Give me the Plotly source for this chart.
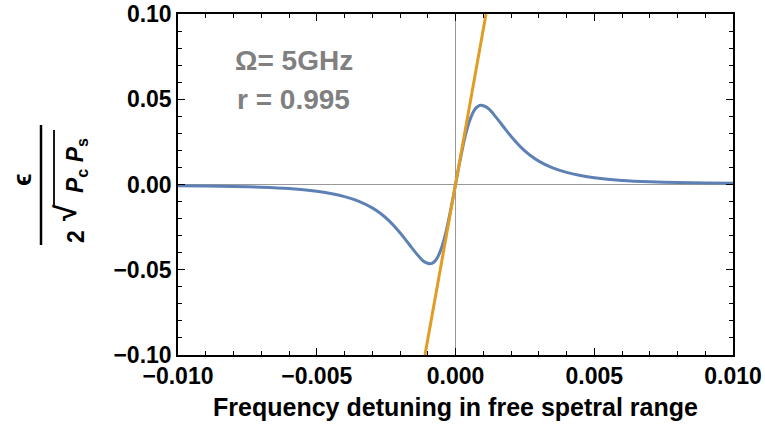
import plotly.graph_objects as go

# Blue curve: values
detuning = [-0.010, -0.009, -0.008, -0.007, -0.006, -0.005, -0.0045, -0.004, -0.0035,
            -0.003, -0.0027, -0.0024, -0.0021, -0.0018, -0.0016, -0.0014, -0.0012,
            -0.0011, -0.001, -0.00094, -0.00085, -0.00075, -0.00065, -0.00055,
            -0.00045, -0.00035, -0.00025, -0.00015, -0.00005,
            0.00005, 0.00015, 0.00025, 0.00035, 0.00045, 0.00055, 0.00065, 0.00075,
            0.00085, 0.00094, 0.001, 0.0011, 0.0012, 0.0014, 0.0016, 0.0018, 0.0021,
            0.0024, 0.0027, 0.003, 0.0035, 0.004, 0.0045, 0.005, 0.006, 0.007,
            0.008, 0.009, 0.010]
epsilon = [-0.0007, -0.0009, -0.0012, -0.0016, -0.0024, -0.0040, -0.0053, -0.0071,
           -0.0097, -0.0137, -0.0170, -0.0212, -0.0264, -0.0323, -0.0366, -0.0407,
           -0.0443, -0.0455, -0.0462, -0.0465, -0.0463, -0.0451, -0.0428, -0.0392,
           -0.0344, -0.0283, -0.0210, -0.0129, -0.0044,
           0.0044, 0.0129, 0.0210, 0.0283, 0.0344, 0.0392, 0.0428, 0.0451,
           0.0463, 0.0465, 0.0462, 0.0455, 0.0443, 0.0407, 0.0366, 0.0323, 0.0264,
           0.0212, 0.0170, 0.0137, 0.0097, 0.0071, 0.0053, 0.0040, 0.0024, 0.0016,
           0.0012, 0.0009, 0.0007]

# Orange tangent line
tangent_x = [-0.0011, 0.0011]
tangent_y = [-0.1, 0.1]

x_ticks = [-0.010, -0.005, 0.0, 0.005, 0.010]
y_ticks = [-0.10, -0.05, 0.0, 0.05, 0.10]

BLUE = "#5E81B5"
ORANGE = "#E19C24"
FONT = "Liberation Sans"

fig = go.Figure()
fig.add_trace(go.Scatter(x=detuning, y=epsilon, mode="lines",
                         line=dict(color=BLUE, width=3, shape="spline", smoothing=0.6)))
fig.add_trace(go.Scatter(x=tangent_x, y=tangent_y, mode="lines",
                         line=dict(color=ORANGE, width=3)))

L, R, T, B = 178, 32, 14, 79
W, H = 765, 434
pw, ph = W - L - R, H - T - B

def px_x(p):
    return (p - L) / pw

def px_y(p):
    return (H - B - p) / ph

fig.update_layout(
    width=W, height=H, autosize=False,
    margin=dict(l=L, r=R, t=T, b=B, autoexpand=False),
    plot_bgcolor="white", paper_bgcolor="white",
    showlegend=False,
    xaxis=dict(range=[-0.010, 0.010], tickvals=x_ticks, tickformat=".3f", automargin=False,
               showgrid=False, zeroline=True, zerolinecolor="#999999", zerolinewidth=1,
               showline=True, linecolor="black", linewidth=1.5, mirror="ticks",
               ticks="inside", ticklen=7, tickwidth=1.2, tickcolor="black",
               minor=dict(ticks="inside", dtick=0.001, ticklen=4, tickwidth=1, tickcolor="black"),
               tickfont=dict(family=FONT, size=23, color="black", weight="bold"),
               title=dict(text="Frequency detuning in free spetral range",
                          font=dict(family=FONT, size=25, color="black", weight="bold"),
                          standoff=10)),
    yaxis=dict(range=[-0.10, 0.10], tickvals=y_ticks, tickformat=".2f", automargin=False,
               showgrid=False, zeroline=True, zerolinecolor="#999999", zerolinewidth=1,
               showline=True, linecolor="black", linewidth=1.5, mirror="ticks",
               ticks="inside", ticklen=7, tickwidth=1.2, tickcolor="black",
               minor=dict(ticks="inside", dtick=0.01, ticklen=4, tickwidth=1, tickcolor="black"),
               tickfont=dict(family=FONT, size=23, color="black", weight="bold")),
)

def ann(px, py, text, font, angle=0):
    fig.add_annotation(x=px_x(px), y=px_y(py), xref="paper", yref="paper",
                       xanchor="center", yanchor="middle", text=text,
                       showarrow=False, textangle=angle, font=font)

gray_font = dict(family=FONT, size=28, color="#808080", weight="bold")
ann(294, 61, "Ω= 5GHz", gray_font)
ann(293, 99, "r = 0.995", gray_font)

# Y-axis label as a rotated fraction
lab_font = dict(family=FONT, size=23, color="black", weight="bold")
ann(22, 180, "ϵ", dict(family=FONT, size=26, color="black", weight="bold"), -90)
fig.add_shape(type="line", xref="paper", yref="paper",
              x0=px_x(41), x1=px_x(41), y0=px_y(125), y1=px_y(245),
              line=dict(color="black", width=2.5))
ann(76, 237, "2", lab_font, -90)
ann(66, 213, "√", dict(family=FONT, size=30, color="black", weight="bold"), -90)
ann(76, 166, "<i>P</i><sub>c</sub> <i>P</i><sub>s</sub>", lab_font, -90)
fig.add_shape(type="line", xref="paper", yref="paper",
              x0=px_x(54), x1=px_x(54), y0=px_y(130), y1=px_y(205),
              line=dict(color="black", width=1.8))

fig.write_html("out.html")
